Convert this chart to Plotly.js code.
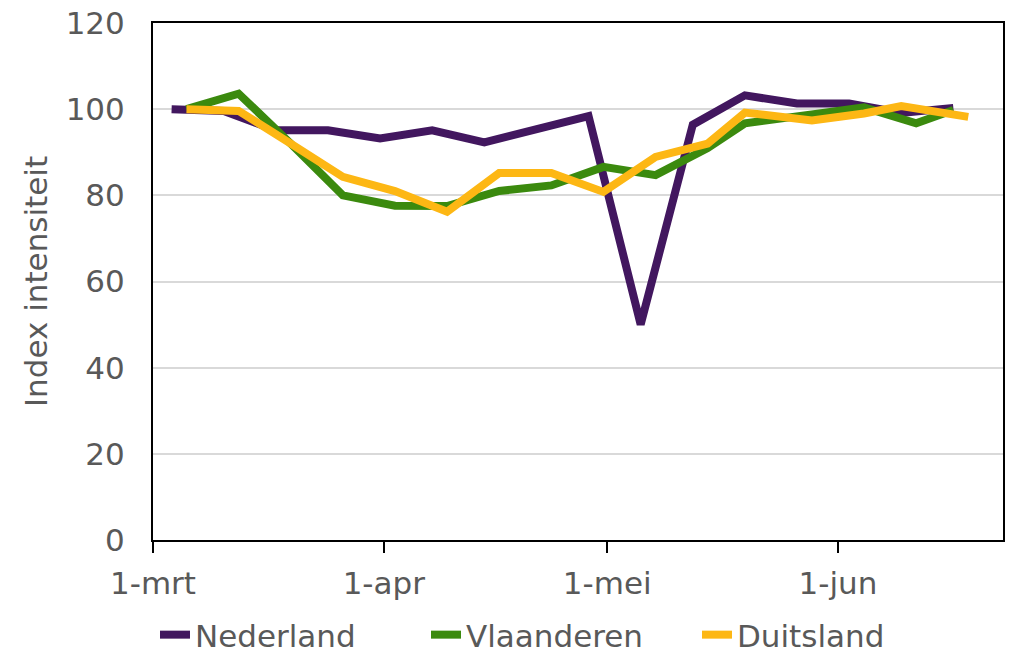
<!DOCTYPE html>
<html>
<head>
<meta charset="utf-8">
<script src="https://cdn.plot.ly/plotly-3.0.1.min.js"></script>
<style>html,body{margin:0;padding:0;background:#fff;}#chart{width:1013px;height:662px;}</style>
</head>
<body>
<div id="chart"></div>
<script>
// Tick labels
const tickDates = ['2020-03-01', '2020-04-01', '2020-05-01', '2020-06-01'];
const tickLabels = ['1-mrt', '1-apr', '1-mei', '1-jun'];

// Nederland
const ndDates = ['2020-03-03 12:00','2020-03-10 12:00','2020-03-17 12:00','2020-03-24 12:00',
  '2020-03-31 12:00','2020-04-07 12:00','2020-04-14 12:00','2020-04-21 12:00',
  '2020-04-28 12:00','2020-05-05 12:00','2020-05-12 12:00','2020-05-19 12:00',
  '2020-05-26 12:00','2020-06-02 12:00','2020-06-09 12:00','2020-06-16 12:00'];
const ndValues = [100, 99.6, 95.1, 95.1, 93.2, 95.1, 92.3, 95.2, 98.4, 50, 96.4, 103.2, 101.3, 101.3, 99.1, 100.3];

// Vlaanderen
const vlDates = ['2020-03-05 12:00','2020-03-12 12:00','2020-03-19 12:00','2020-03-26 12:00',
  '2020-04-02 12:00','2020-04-09 12:00','2020-04-16 12:00','2020-04-23 12:00',
  '2020-04-30 12:00','2020-05-07 12:00','2020-05-14 12:00','2020-05-19 12:00',
  '2020-05-28 12:00','2020-06-04 12:00','2020-06-11 12:00','2020-06-16 12:00'];
const vlValues = [100, 103.6, 92, 80, 77.6, 77.5, 81, 82.3, 86.6, 84.7, 91, 96.7, 98.8, 100.4, 96.7, 99.8];

// Duitsland
const duDates = ['2020-03-05 12:00','2020-03-12 12:00','2020-03-19 12:00','2020-03-26 12:00',
  '2020-04-02 12:00','2020-04-09 12:00','2020-04-16 12:00','2020-04-23 12:00',
  '2020-04-30 12:00','2020-05-07 12:00','2020-05-14 12:00','2020-05-19 12:00',
  '2020-05-28 12:00','2020-06-04 12:00','2020-06-09 12:00','2020-06-18 12:00'];
const duValues = [100, 99.6, 92, 84.3, 81, 76.2, 85.2, 85.2, 80.8, 88.9, 92, 99.2, 97.4, 99, 100.7, 98.2];

const FONT = 'DejaVu Sans, Verdana, sans-serif';
const GREY = '#595959';
const FS = 31;

const traces = [
  {x: ndDates, y: ndValues, name: 'Nederland', type: 'scatter', mode: 'lines',
   line: {color: '#42175F', width: 8}},
  {x: vlDates, y: vlValues, name: 'Vlaanderen', type: 'scatter', mode: 'lines',
   line: {color: '#3B8A0E', width: 8}},
  {x: duDates, y: duValues, name: 'Duitsland', type: 'scatter', mode: 'lines',
   line: {color: '#FDB714', width: 8}}
];

const layout = {
  width: 1013, height: 662,
  margin: {l: 153, r: 10, t: 23, b: 122, autoexpand: false},
  paper_bgcolor: '#ffffff', plot_bgcolor: '#ffffff',
  font: {family: FONT, color: GREY, size: FS},
  showlegend: true,
  legend: {
    orientation: 'h', xref: 'container', yref: 'container',
    x: 0.153, xanchor: 'left', y: -0.008, yanchor: 'bottom',
    font: {family: FONT, size: FS, color: GREY},
    entrywidth: 226, entrywidthmode: 'pixels',
    itemwidth: 30
  },
  xaxis: {
    type: 'date',
    range: ['2020-03-01', '2020-06-23 04:00'],
    tickmode: 'array', tickvals: tickDates, ticktext: tickLabels,
    ticks: 'outside', ticklen: 11, tickwidth: 2, tickcolor: '#000',
    showline: true, linecolor: '#000', linewidth: 2, mirror: true,
    showgrid: false, zeroline: false, automargin: false, tickangle: 0,
    tickfont: {family: FONT, size: FS, color: GREY},
    ticklabelstandoff: 4
  },
  yaxis: {
    range: [0, 120], dtick: 20, tick0: 0,
    ticks: '', showline: true, linecolor: '#000', linewidth: 2, mirror: true,
    showgrid: true, gridcolor: '#d9d9d9', gridwidth: 2, zeroline: false, automargin: false,
    tickfont: {family: FONT, size: FS, color: GREY},
    ticklabelstandoff: 20,
    title: {text: 'Index intensiteit', font: {family: FONT, size: FS, color: GREY}, standoff: 9}
  }
};

Plotly.newPlot('chart', traces, layout, {displayModeBar: false, staticPlot: true});
</script>
</body>
</html>
